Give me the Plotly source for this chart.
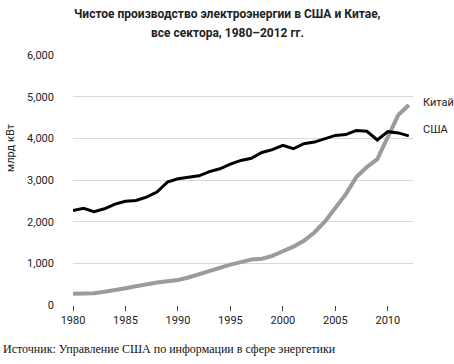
import plotly.graph_objects as go

years = list(range(1980, 2013))
usa = [2270, 2320, 2240, 2310, 2420, 2490, 2510, 2590, 2710, 2950,
       3030, 3070, 3100, 3200, 3270, 3380, 3470, 3520, 3660, 3730,
       3830, 3750, 3870, 3910, 3990, 4070, 4090, 4190, 4170, 3960,
       4160, 4130, 4060]
china = [270, 270, 280, 320, 350, 400, 450, 500, 540, 570,
         600, 660, 740, 820, 910, 970, 1030, 1090, 1110, 1180,
         1290, 1400, 1540, 1740, 2000, 2320, 2660, 3070, 3310, 3500,
         4020, 4560, 4800]
x_ticks = [1980, 1985, 1990, 1995, 2000, 2005, 2010]
y_ticks = [0, 1000, 2000, 3000, 4000, 5000, 6000]
y_ticktext = ["0", "1,000", "2,000", "3,000", "4,000", "5,000", "6,000"]

W, H = 454, 364
L, R, T, B = 73, 41, 55, 59

fig = go.Figure()
fig.add_trace(go.Scatter(x=years, y=china, mode="lines", name="Китай",
                         line=dict(color="#9b9b9b", width=4)))
fig.add_trace(go.Scatter(x=years, y=usa, mode="lines", name="США",
                         line=dict(color="#000000", width=3)))

fig.update_layout(
    width=W, height=H,
    margin=dict(l=L, r=R, t=T, b=B),
    paper_bgcolor="white", plot_bgcolor="white",
    showlegend=False,
    font=dict(family="Roboto, sans-serif", size=11, color="#333"),
    xaxis=dict(range=[1980, 2012.4], tickvals=x_ticks, showgrid=False,
               zeroline=False, showline=False, ticks="outside", ticklen=5,
               tickcolor="#444", tickwidth=1, tickfont=dict(size=11, color="#222")),
    yaxis=dict(range=[0, 6000], tickvals=y_ticks, ticktext=y_ticktext,
               showgrid=True, gridcolor="#d9d9d9", gridwidth=1,
               zeroline=False, showline=False, ticks="",
               ticklabelstandoff=18, tickfont=dict(size=11, color="#222")),
    annotations=[
        dict(text="<b>Чистое производство электроэнергии в США и Китае,</b>",
             xref="paper", yref="paper", x=(227 - L) / (W - L - R), y=1 + (T - 14) / (H - T - B),
             showarrow=False, xanchor="center", yanchor="middle",
             font=dict(size=12, color="#222")),
        dict(text="<b>все сектора, 1980–2012 гг.</b>",
             xref="paper", yref="paper", x=(227 - L) / (W - L - R), y=1 + (T - 33) / (H - T - B),
             showarrow=False, xanchor="center", yanchor="middle",
             font=dict(size=12, color="#222")),
        dict(text="млрд кВт", textangle=-90,
             xref="paper", yref="paper", x=(10 - L) / (W - L - R), y=(H - B - 148) / (H - T - B),
             showarrow=False, xanchor="center", yanchor="middle",
             font=dict(size=11, color="#222")),
        dict(text="Китай", xref="paper", yref="paper",
             x=(421 - L) / (W - L - R), y=(H - B - 103) / (H - T - B),
             showarrow=False, xanchor="left", yanchor="middle",
             font=dict(size=11, color="#222")),
        dict(text="США", xref="paper", yref="paper",
             x=(421 - L) / (W - L - R), y=(H - B - 129) / (H - T - B),
             showarrow=False, xanchor="left", yanchor="middle",
             font=dict(size=11, color="#222")),
        dict(text="Источник: Управление США по информации в сфере энергетики",
             xref="paper", yref="paper",
             x=(1 - L) / (W - L - R), y=(H - B - 349) / (H - T - B),
             showarrow=False, xanchor="left", yanchor="middle",
             font=dict(family="Liberation Serif, DejaVu Serif, serif", size=12, color="#111")),
    ],
)

fig.write_html("out.html",
               config={"displayModeBar": False},
               post_script="document.body.style.margin='0';document.body.style.overflow='hidden';")
